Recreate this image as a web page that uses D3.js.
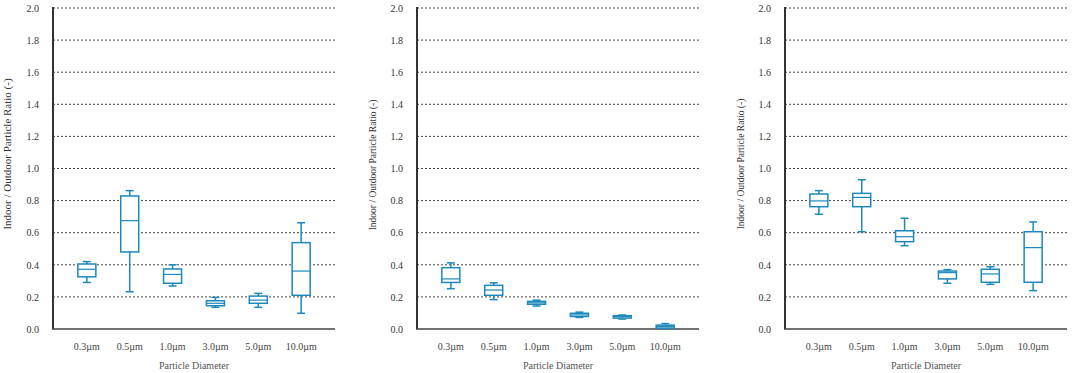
<!DOCTYPE html>
<html>
<head>
<meta charset="utf-8">
<script src="https://cdn.jsdelivr.net/npm/d3@7"></script>
<style>
  body { margin: 0; background: #fff; }
</style>
</head>
<body>
<div id="chart"></div>
<script>
// Particle size classes (x categories)
const diameters = ["0.3\u00b5m", "0.5\u00b5m", "1.0\u00b5m", "3.0\u00b5m", "5.0\u00b5m", "10.0\u00b5m"];
const yTicks = [0.0, 0.2, 0.4, 0.6, 0.8, 1.0, 1.2, 1.4, 1.6, 1.8, 2.0];

// box stats per diameter: [min, q1, median, q3, max]
const caseA = [
  [0.29, 0.325, 0.372, 0.405, 0.42],
  [0.232, 0.48, 0.675, 0.829, 0.862],
  [0.268, 0.285, 0.34, 0.374, 0.40],
  [0.135, 0.145, 0.16, 0.176, 0.197],
  [0.135, 0.16, 0.18, 0.205, 0.222],
  [0.098, 0.21, 0.361, 0.538, 0.662]
];
const caseB = [
  [0.251, 0.29, 0.312, 0.382, 0.412],
  [0.183, 0.21, 0.243, 0.272, 0.288],
  [0.143, 0.154, 0.163, 0.172, 0.18],
  [0.072, 0.078, 0.088, 0.098, 0.105],
  [0.062, 0.068, 0.077, 0.083, 0.087],
  [0.003, 0.006, 0.016, 0.024, 0.034]
];
const caseC = [
  [0.715, 0.762, 0.798, 0.841, 0.862],
  [0.606, 0.762, 0.82, 0.845, 0.93],
  [0.519, 0.544, 0.575, 0.612, 0.69],
  [0.285, 0.312, 0.351, 0.361, 0.37],
  [0.278, 0.291, 0.343, 0.372, 0.388],
  [0.239, 0.291, 0.507, 0.606, 0.667]
];

const width = 1072, height = 373;
const plotTop = 8, plotBottom = 329, plotW = 282;
const boxColor = "#1d88bb";
const serif = "'Liberation Serif', 'Times New Roman', Times, serif";

const panels = [
  { data: caseA, x0: 53,  titleX: 8,   titleY: 154, titleSize: 11 },
  { data: caseB, x0: 417, titleX: 373, titleY: 165, titleSize: 9.5 },
  { data: caseC, x0: 785, titleX: 741, titleY: 164, titleSize: 9.5 }
];

const svg = d3.select("#chart").append("svg")
  .attr("width", width).attr("height", height)
  .style("background", "#fff");

const y = d3.scaleLinear().domain([0, 2]).range([plotBottom, plotTop]);

panels.forEach(p => {
  const g = svg.append("g").attr("transform", `translate(${p.x0},0)`);
  const x = d3.scaleBand().domain(diameters).range([0, plotW]).padding(0.58);

  // dotted gridlines
  g.append("g").selectAll("line").data(yTicks.filter(d => d > 0)).join("line")
    .attr("x1", 0).attr("x2", plotW)
    .attr("y1", d => y(d)).attr("y2", d => y(d))
    .style("stroke", "#444").style("stroke-width", 1)
    .style("stroke-dasharray", "2,2");

  // y axis
  const yAxis = g.append("g")
    .call(d3.axisLeft(y).tickValues(yTicks).tickFormat(d3.format(".1f")).tickSize(0).tickPadding(14));
  yAxis.select(".domain").remove();
  yAxis.selectAll("text").style("font-family", serif).style("font-size", "10px").style("fill", "#333");

  // x axis
  const xAxis = g.append("g").attr("transform", `translate(0,${plotBottom})`)
    .call(d3.axisBottom(x).tickSize(0).tickPadding(14));
  xAxis.select(".domain").remove();
  xAxis.selectAll("text").style("font-family", serif).style("font-size", "10px").style("fill", "#444");

  // axis frame lines
  g.append("line").attr("x1", 0).attr("x2", 0).attr("y1", plotTop - 1).attr("y2", plotBottom)
    .style("stroke", "#333").style("stroke-width", 2);
  g.append("line").attr("x1", -1).attr("x2", plotW).attr("y1", plotBottom).attr("y2", plotBottom)
    .style("stroke", "#444").style("stroke-width", 1.5);

  // boxes
  const bw = x.bandwidth();
  const boxes = g.append("g").selectAll("g").data(p.data).join("g")
    .attr("transform", (d, i) => `translate(${x(diameters[i])},0)`);

  boxes.append("line")
    .attr("x1", bw / 2).attr("x2", bw / 2)
    .attr("y1", d => y(d[0])).attr("y2", d => y(d[1]))
    .style("stroke", boxColor).style("stroke-width", 1.5);
  boxes.append("line")
    .attr("x1", bw / 2).attr("x2", bw / 2)
    .attr("y1", d => y(d[3])).attr("y2", d => y(d[4]))
    .style("stroke", boxColor).style("stroke-width", 1.5);
  boxes.selectAll(".cap").data(d => [d[0], d[4]]).join("line").attr("class", "cap")
    .attr("x1", bw / 2 - 4).attr("x2", bw / 2 + 4)
    .attr("y1", v => y(v)).attr("y2", v => y(v))
    .style("stroke", boxColor).style("stroke-width", 1.5);
  boxes.append("rect")
    .attr("x", 0).attr("width", bw)
    .attr("y", d => y(d[3])).attr("height", d => Math.max(1, y(d[1]) - y(d[3])))
    .style("fill", "#fff").style("stroke", boxColor).style("stroke-width", 1.5);
  boxes.append("line")
    .attr("x1", 0).attr("x2", bw)
    .attr("y1", d => y(d[2])).attr("y2", d => y(d[2]))
    .style("stroke", boxColor).style("stroke-width", 1.2);

  // axis titles
  g.append("text")
    .attr("x", plotW / 2).attr("y", 369)
    .attr("text-anchor", "middle")
    .style("font-family", serif).style("font-size", "10px").style("fill", "#555")
    .text("Particle Diameter");

  svg.append("text")
    .attr("transform", `translate(${p.titleX + 3},${p.titleY}) rotate(-90)`)
    .attr("text-anchor", "middle")
    .style("font-family", serif).style("font-size", p.titleSize + "px").style("fill", "#333")
    .text("Indoor / Outdoor Particle Ratio (-)");
});
</script>
</body>
</html>
